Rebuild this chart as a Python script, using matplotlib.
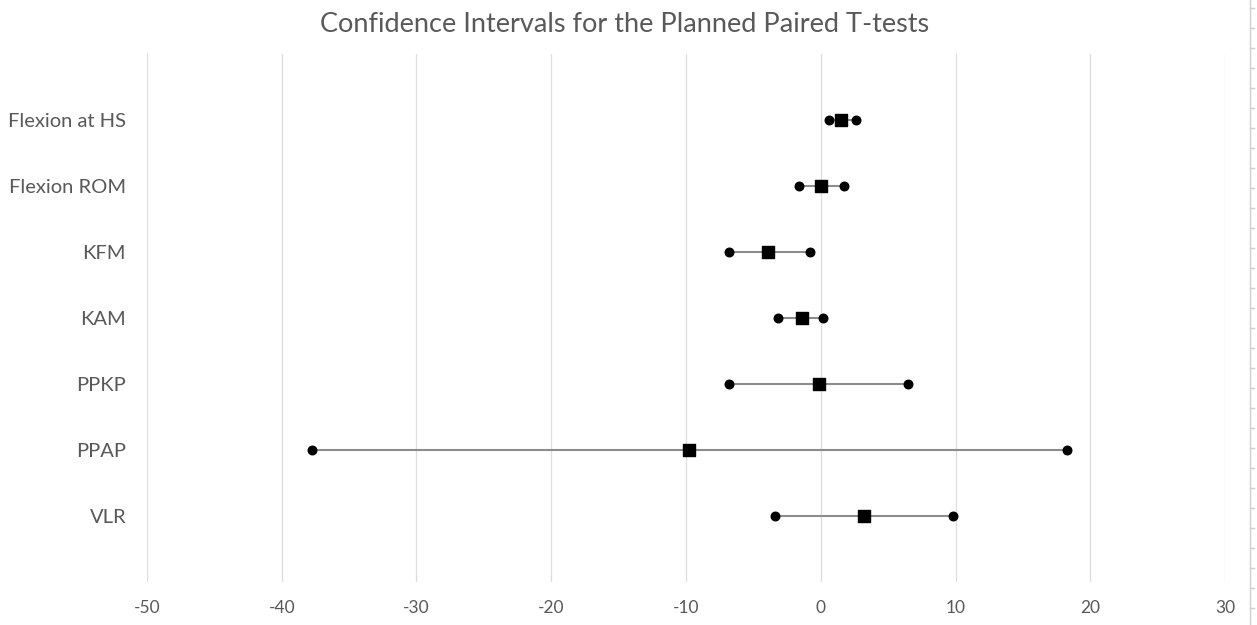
import matplotlib.pyplot as plt
from matplotlib.lines import Line2D

# measures, top to bottom
labels = ['Flexion at HS', 'Flexion ROM', 'KFM', 'KAM', 'PPKP', 'PPAP', 'VLR']
means = [1.48, 0.04, -3.89, -1.39, -0.11, -9.76, 3.23]
lower = [0.63, -1.61, -6.79, -3.15, -6.79, -37.78, -3.40]
upper = [2.59, 1.75, -0.80, 0.19, 6.47, 18.25, 9.84]

xticks = [-50, -40, -30, -20, -10, 0, 10, 20, 30]

plt.rcParams['font.family'] = ['Lato', 'DejaVu Sans']
txt = '#595959'

fig = plt.figure(figsize=(12.57, 6.25), dpi=100)
ax = fig.add_axes([0.1169, 0.0688, 0.8577, 0.8448])

ypos = list(range(1, len(labels) + 1))
for i in range(len(labels)):
    ax.plot([lower[i], upper[i]], [ypos[i], ypos[i]], color='#8c8c8c', lw=1.5, zorder=2)
ax.scatter(lower, ypos, s=38, marker='o', color='black', zorder=3)
ax.scatter(upper, ypos, s=38, marker='o', color='black', zorder=3)
ax.scatter(means, ypos, s=70, marker='s', color='black', zorder=4)

ax.set_xlim(-50, 30)
ax.set_ylim(8, 0)
ax.set_xticks(xticks)
ax.set_xticklabels([str(t) for t in xticks], fontsize=12.5, color=txt)
ax.set_yticks(ypos)
ax.set_yticklabels(labels, fontsize=14.5, color=txt)
ax.tick_params(axis='both', length=0)
ax.tick_params(axis='x', pad=13)
ax.tick_params(axis='y', pad=15)
ax.grid(axis='x', color='#dedede', lw=0.9)
ax.set_axisbelow(True)
for s in ax.spines.values():
    s.set_visible(False)

fig.text(0.497, 0.96, 'Confidence Intervals for the Planned Paired T-tests',
         ha='center', va='center', fontsize=19.5, color=txt)

# spreadsheet cell border on the right edge
fig.add_artist(Line2D([1250 / 1257, 1250 / 1257], [0, 1], color='#d0d0d0', lw=1))
for k in range(32):
    yy = 1 - (8 + 20 * k) / 625
    fig.add_artist(Line2D([1250 / 1257, 1254 / 1257], [yy, yy], color='#d0d0d0', lw=1))

fig.savefig('out.png', dpi=100, facecolor='white')
